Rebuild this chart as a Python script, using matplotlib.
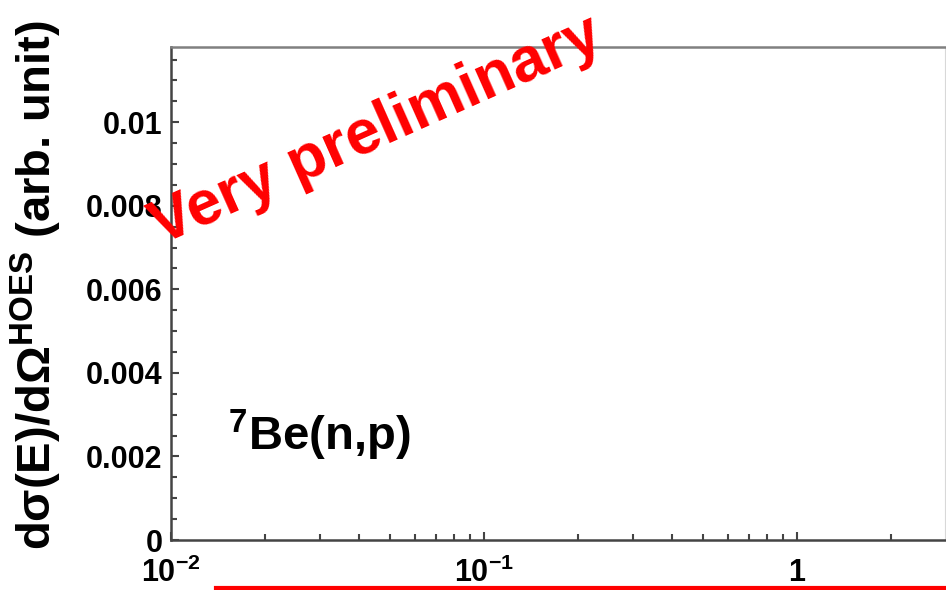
import numpy as np
import matplotlib
matplotlib.use("Agg")
import matplotlib.pyplot as plt
from matplotlib.ticker import MultipleLocator, LogLocator, NullFormatter
from matplotlib.lines import Line2D

plt.rcParams['font.family'] = ['Liberation Sans', 'DejaVu Sans']
plt.rcParams['font.weight'] = 'bold'
plt.rcParams['mathtext.fontset'] = 'custom'
plt.rcParams['mathtext.rm'] = 'Liberation Sans:bold'
plt.rcParams['mathtext.bf'] = 'Liberation Sans:bold'
plt.rcParams['mathtext.it'] = 'Liberation Sans:bold'
plt.rcParams['mathtext.default'] = 'rm'

# axis ranges and ticks
x_range = [0.01, 2.97]
y_range = [0.0, 0.0118]
xtick_vals = [0.01, 0.1, 1]
xtick_labels = [r'$10^{-2}$', r'$10^{-1}$', '1']
ytick_vals = [0, 0.002, 0.004, 0.006, 0.008, 0.01]
ytick_labels = ['0', '0.002', '0.004', '0.006', '0.008', '0.01']
y_minor_step = 0.0005

# red band under the axis (figure pixel coords of the reference)
red_line_x = [216, 946]
red_line_y = [588, 588]

W, H = 946, 590
fig = plt.figure(figsize=(W / 100, H / 100), dpi=100)
ax = fig.add_axes([171 / W, 1 - 540 / H, (945 - 171) / W, (540 - 47) / H])

ax.set_xscale('log')
ax.set_xlim(*x_range)
ax.set_ylim(*y_range)

ax.set_xticks(xtick_vals)
ax.set_xticklabels(xtick_labels)
ax.xaxis.set_minor_locator(LogLocator(base=10, subs=np.arange(2, 10)))
ax.xaxis.set_minor_formatter(NullFormatter())
ax.set_yticks(ytick_vals)
ax.set_yticklabels(ytick_labels)
ax.yaxis.set_minor_locator(MultipleLocator(y_minor_step))

ax.tick_params(which='both', direction='in', top=False, right=False,
               color='#444444', width=1.5, labelsize=22)
ax.tick_params(which='major', length=6)
ax.tick_params(which='minor', length=4)
ax.tick_params(axis='x', pad=13)
ax.tick_params(axis='y', pad=6)

for s in ['left', 'bottom']:
    ax.spines[s].set_color('#444444')
    ax.spines[s].set_linewidth(1.8)
ax.spines['top'].set_color('#808080')
ax.spines['top'].set_linewidth(1.8)
ax.spines['right'].set_color('#d8d8d8')
ax.spines['right'].set_linewidth(0.8)

fig.text(36 / W, 1 - 285 / H, r'd$\sigma$(E)/d$\Omega^{\rm HOES}$ (arb. unit)',
         rotation=90, ha='center', va='center', fontsize=34, fontweight='bold')

ax.text(228 / W, 1 - 450 / H, r'$^{7}$Be(n,p)', transform=fig.transFigure,
        ha='left', va='baseline', fontsize=34, fontweight='bold')

fig.text(376 / W, 1 - 131 / H, 'Very preliminary', rotation=24,
         rotation_mode='anchor', ha='center', va='center',
         fontsize=45, fontweight='bold', color='#ff0000')

fig.add_artist(Line2D([x / W for x in red_line_x], [1 - y / H for y in red_line_y],
                      color='#ff0000', linewidth=3, transform=fig.transFigure))

fig.savefig('out.png', dpi=100)
